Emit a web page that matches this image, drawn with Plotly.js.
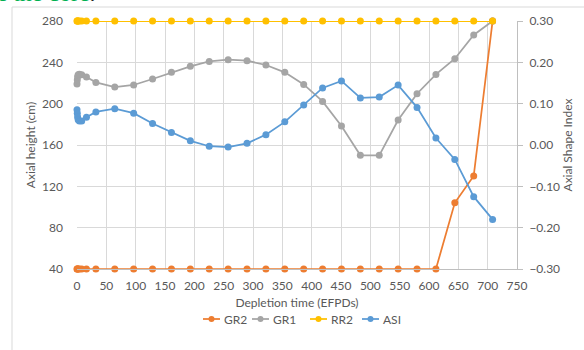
<!DOCTYPE html>
<html>
<head>
<meta charset="utf-8">
<script src="https://cdn.plot.ly/plotly-3.0.1.min.js"></script>
<style>
html,body{margin:0;padding:0;background:#fff;}
#chart{width:584px;height:350px;}
</style>
</head>
<body>
<div id="chart"></div>
<script>
// Depletion time (EFPDs)
const depletion = [0, 0.5, 1, 2, 4, 8, 16.1, 32.2, 64.4, 96.6, 128.8, 161, 193.2, 225.4, 257.6, 289.8, 322, 354.2, 386.4, 418.6, 450.8, 483, 515.2, 547.4, 579.6, 611.8, 644, 676.2, 708.4];
// Axial height (cm)
const gr2 = [40, 40, 40, 40, 40, 40, 40, 40, 40, 40, 40, 40, 40, 40, 40, 40, 40, 40, 40, 40, 40, 40, 40, 40, 40, 40, 104, 130, 280];
const gr1 = [219, 223, 226, 228, 228.5, 228, 225.8, 220.6, 216.1, 218.1, 223.9, 230.3, 236.1, 240.9, 242.5, 241.6, 237.4, 230.3, 218.6, 202.2, 178.4, 150, 150, 184.2, 209.6, 228.3, 243.5, 266.5, 280];
const rr2 = [280, 280, 280, 280, 280, 280, 280, 280, 280, 280, 280, 280, 280, 280, 280, 280, 280, 280, 280, 280, 280, 280, 280, 280, 280, 280, 280, 280, 280];
// Axial Shape Index
const asi = [0.085, 0.077, 0.068, 0.061, 0.058, 0.058, 0.067, 0.080, 0.088, 0.077, 0.052, 0.030, 0.010, -0.003, -0.005, 0.004, 0.025, 0.056, 0.097, 0.138, 0.155, 0.114, 0.116, 0.145, 0.091, 0.017, -0.035, -0.125, -0.180];

const seriesNames = ['GR2', 'GR1', 'RR2', 'ASI'];
const seriesColors = ['#ED7D31', '#A5A5A5', '#FFC000', '#5B9BD5'];

const FONT = 'Lato, "Open Sans", sans-serif';
const TXT = '#595959';
const FS = 12;

// plot area geometry (px)
const W = 584, H = 350, ML = 77, MR = 67, MT = 21, MB = 81;
const PW = W - ML - MR, PH = H - MT - MB;
const px2x = p => (p - ML) / PW;
const px2y = p => (H - MB - p) / PH;

function tr(y, i, axis) {
  return {
    x: depletion, y: y, name: seriesNames[i], type: 'scatter', mode: 'lines+markers',
    yaxis: axis, cliponaxis: false, showlegend: false,
    line: {color: seriesColors[i], width: 1.75},
    marker: {color: seriesColors[i], size: 7}
  };
}

const data = [tr(gr2, 0, 'y'), tr(gr1, 1, 'y'), tr(rr2, 2, 'y'), tr(asi, 3, 'y2')];

// custom compact legend (Excel style)
const legendStarts = [203, 252, 310, 362];
const legendY = 319;
const shapes = [
  {type: 'rect', xref: 'paper', yref: 'paper', x0: px2x(12), x1: 1.5, y0: -0.5, y1: px2y(7),
   line: {color: '#D9D9D9', width: 1}, fillcolor: 'rgba(0,0,0,0)', layer: 'below'}
];
const annotations = [
  {xref: 'paper', yref: 'paper', x: px2x(-3), y: px2y(-7), xanchor: 'left', yanchor: 'middle',
   text: 'f the core<span style="color:#000">.</span>', showarrow: false,
   font: {family: '"Liberation Serif", serif', size: 24, color: '#00B050'}}
];
seriesNames.forEach((n, i) => {
  const s = legendStarts[i];
  shapes.push({type: 'line', xref: 'paper', yref: 'paper', x0: px2x(s), x1: px2x(s + 17),
               y0: px2y(legendY), y1: px2y(legendY), line: {color: seriesColors[i], width: 1.75}});
  shapes.push({type: 'circle', xref: 'paper', yref: 'paper', x0: px2x(s + 5.5), x1: px2x(s + 11.5),
               y0: px2y(legendY + 3), y1: px2y(legendY - 3), line: {width: 0},
               fillcolor: seriesColors[i]});
  annotations.push({xref: 'paper', yref: 'paper', x: px2x(s + 19), y: px2y(legendY),
                    xanchor: 'left', yanchor: 'middle', text: n, showarrow: false,
                    font: {family: FONT, size: FS, color: TXT}});
});

const layout = {
  width: W, height: H,
  margin: {l: ML, r: MR, t: MT, b: MB},
  paper_bgcolor: '#fff', plot_bgcolor: 'rgba(0,0,0,0)',
  font: {family: FONT, size: FS, color: TXT},
  showlegend: false,
  xaxis: {
    range: [0, 750], dtick: 50, tick0: 0, showgrid: true, gridcolor: '#D9D9D9', gridwidth: 1,
    zeroline: false, showline: true, linecolor: '#BFBFBF', ticks: '', ticklabelstandoff: 6,
    tickfont: {family: FONT, size: FS, color: TXT},
    title: {text: 'Depletion time (EFPDs)', font: {family: FONT, size: FS, color: TXT}, standoff: 6}
  },
  yaxis: {
    range: [40, 280], dtick: 40, tick0: 40, showgrid: true, gridcolor: '#D9D9D9', gridwidth: 1,
    zeroline: false, showline: false, ticks: '', ticklabelstandoff: 13,
    tickfont: {family: FONT, size: FS, color: TXT},
    title: {text: 'Axial height (cm)', font: {family: FONT, size: FS, color: TXT}, standoff: 3}
  },
  yaxis2: {
    overlaying: 'y', side: 'right', range: [-0.3, 0.3], dtick: 0.1, tick0: -0.3,
    tickformat: '.2f', showgrid: false, zeroline: false, showline: true, linecolor: '#BFBFBF',
    ticks: 'outside', ticklen: 5, tickcolor: '#BFBFBF', ticklabelstandoff: 4,
    tickfont: {family: FONT, size: FS, color: TXT},
    title: {text: 'Axial Shape Index', font: {family: FONT, size: FS, color: TXT}, standoff: 3}
  },
  shapes: shapes,
  annotations: annotations
};

Plotly.newPlot('chart', data, layout, {staticPlot: true, displayModeBar: false});
</script>
</body>
</html>
